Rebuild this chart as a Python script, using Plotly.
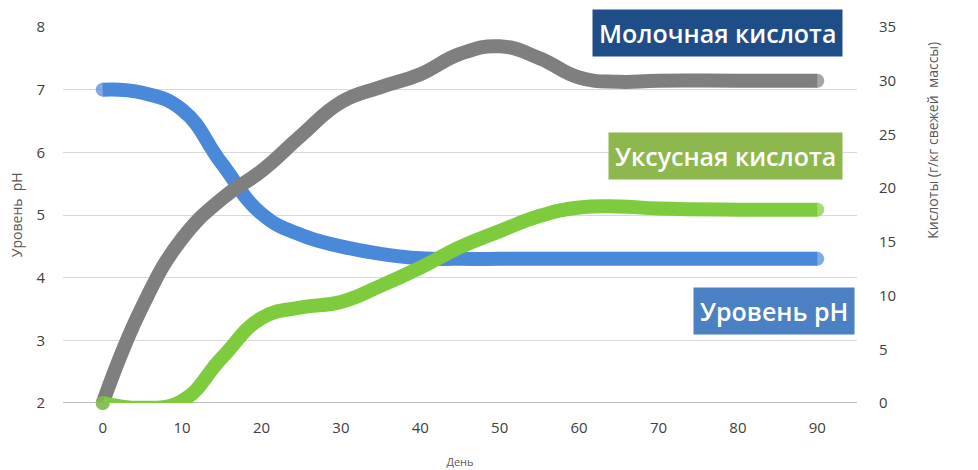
import plotly.graph_objects as go

days = [0, 5, 10, 15, 20, 25, 30, 35, 40, 45, 50, 55, 60, 65, 70, 80, 90]
ph = [7.0, 6.95, 6.68, 5.82, 5.02, 4.68, 4.5, 4.38, 4.31, 4.3, 4.3, 4.3, 4.3, 4.3, 4.3, 4.3, 4.3]
lactic = [0, 9.0, 15.3, 19.0, 21.6, 24.9, 28.0, 29.4, 30.6, 32.5, 33.2, 32.1, 30.3, 29.9, 30.0, 30.0, 30.0]
acetic = [0, -0.45, 0.2, 4.2, 7.9, 8.9, 9.4, 10.9, 12.6, 14.5, 16.0, 17.4, 18.2, 18.3, 18.1, 18.0, 18.0]

x_ticks = [0, 10, 20, 30, 40, 50, 60, 70, 80, 90]
ph_ticks = [2, 3, 4, 5, 6, 7, 8]
acid_ticks = [0, 5, 10, 15, 20, 25, 30, 35]

BLUE = "#4A88D9"
GRAY = "#7F7F7F"
GREEN = "#7FCB3E"
LW = 14
FONT = "Open Sans"


def end_sizes(n):
    return [LW] + [0] * (n - 2) + [LW]


fig = go.Figure()
for ys, col, ax in [(lactic, GRAY, "y2"), (acetic, GREEN, "y2"), (ph, BLUE, "y")]:
    fig.add_trace(go.Scatter(
        x=days, y=ys, yaxis=ax, mode="lines+markers",
        line=dict(color=col, width=LW, shape="spline", smoothing=1.3),
        marker=dict(color=col, size=end_sizes(len(days)), line=dict(width=0)),
        cliponaxis=False, showlegend=False, hoverinfo="skip"))

fig.update_layout(
    width=978, height=470,
    margin=dict(l=63, r=121, t=27, b=67),
    paper_bgcolor="white", plot_bgcolor="white",
    font=dict(family=FONT, color="#404040", size=15),
    xaxis=dict(range=[-5, 95], tickvals=x_ticks, showgrid=False, zeroline=False,
               showline=False, ticks="outside", ticklen=11, tickcolor="rgba(0,0,0,0)",
               tickfont=dict(size=15, color="#404040"), automargin=False,
               title=dict(text="День", font=dict(size=11, color="#595959"), standoff=22)),
    yaxis=dict(range=[2, 8], tickvals=ph_ticks, showgrid=True, gridcolor="#D9D9D9",
               gridwidth=1.3, zeroline=False, showline=False, automargin=False,
               ticks="outside", ticklen=14, tickcolor="rgba(0,0,0,0)",
               tickfont=dict(size=15, color="#404040")),
    yaxis2=dict(range=[0, 35], tickvals=acid_ticks, overlaying="y", side="right",
                showgrid=False, zeroline=False, showline=False, automargin=False,
                ticks="outside", ticklen=18, tickcolor="rgba(0,0,0,0)",
                tickfont=dict(size=15, color="#404040")),
)

# bottom axis line at pH 2
fig.add_shape(type="line", xref="paper", yref="y", x0=0, x1=1, y0=2, y1=2,
              line=dict(color="#BFBFBF", width=2), layer="below")

# axis titles
fig.add_annotation(text="Уровень  pH", xref="paper", yref="paper",
                   x=-0.059, y=0.5, textangle=-90, showarrow=False,
                   font=dict(size=14, color="#595959"), xanchor="center", yanchor="middle")
fig.add_annotation(text="Кислоты (г/кг свежей  массы)", xref="paper", yref="paper",
                   x=1.0957, y=0.70, textangle=-90, showarrow=False,
                   font=dict(size=14, color="#595959"), xanchor="center", yanchor="middle")

# series labels
label_font = dict(size=25, color="white", family=FONT, weight=600)
fig.add_annotation(text="Молочная кислота", xref="paper", yref="paper",
                   x=0.9824, y=1.048, xanchor="right", yanchor="top", showarrow=False,
                   bgcolor="#1F4D87", borderpad=6, font=label_font)
fig.add_annotation(text="Уксусная кислота", xref="paper", yref="paper",
                   x=0.9824, y=0.7207, xanchor="right", yanchor="top", showarrow=False,
                   bgcolor="#8DB84D", borderpad=6, font=label_font)
fig.add_annotation(text="Уровень pH", xref="paper", yref="paper",
                   x=0.9975, y=0.3085, xanchor="right", yanchor="top", showarrow=False,
                   bgcolor="#4B80C3", borderpad=6, font=label_font)

fig.write_html("out.html", config={"displayModeBar": False},
               post_script="document.body.style.margin='0';")
